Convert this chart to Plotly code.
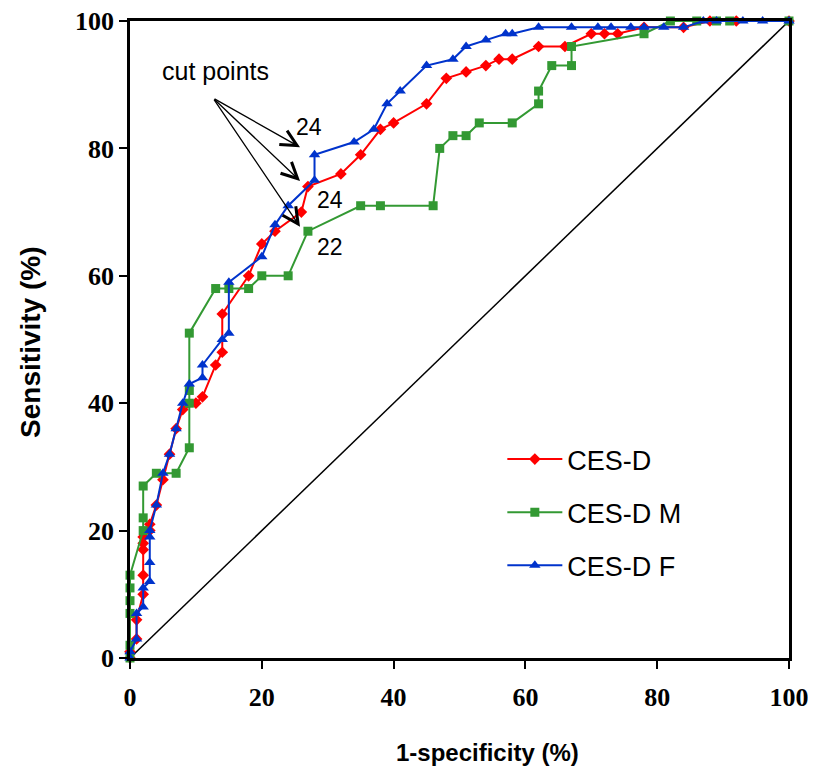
import plotly.graph_objects as go

# CES-D (all)
cesd_x = [0, 0, 1, 1, 2, 2, 2, 2, 2, 3, 3, 4, 5, 6, 7, 8, 10, 11, 13, 14, 14, 18, 20, 22, 26, 27,
          32, 35, 38, 40, 45, 48, 51, 54, 56, 58, 62, 66, 70, 72, 74, 78, 84, 88, 92, 100]
cesd_y = [0, 1, 3, 6, 10, 13, 17, 18, 19, 20, 21, 24, 28, 32, 36, 39, 40, 41, 46, 48, 54, 60, 65, 67, 70, 74,
          76, 79, 83, 84, 87, 91, 92, 93, 94, 94, 96, 96, 98, 98, 98, 99, 99, 100, 100, 100]

# CES-D M
cesdm_x = [0, 0, 0, 0, 0, 0, 2, 2, 2, 4, 7, 9, 9, 9, 9, 13, 15, 18, 20, 24, 27, 35, 38, 46, 47,
           49, 51, 53, 58, 62, 62, 64, 67, 67, 78, 82, 86, 89, 91, 100]
cesdm_y = [0, 2, 7, 9, 11, 13, 20, 22, 27, 29, 29, 33, 40, 42, 51, 58, 58, 58, 60, 60, 67, 71, 71, 71, 80,
           82, 82, 84, 84, 87, 89, 93, 93, 96, 98, 100, 100, 100, 100, 100]

# CES-D F
cesdf_x = [0, 0, 1, 1, 2, 2, 3, 3, 3, 3, 4, 5, 6, 7, 8, 9, 11, 11, 14, 15, 15, 20, 22, 24, 28, 28,
           34, 37, 39, 41, 45, 49, 51, 54, 57, 58, 62, 67, 71, 73, 76, 78, 81, 84, 87, 89, 93, 96, 100]
cesdf_y = [0, 1, 3, 7, 8, 11, 12, 15, 19, 20, 24, 29, 32, 36, 40, 43, 44, 46, 50, 51, 59, 63, 68, 71, 75, 79,
           81, 83, 87, 89, 93, 94, 96, 97, 98, 98, 99, 99, 99, 99, 99, 99, 99, 99, 100, 100, 100, 100, 100]

ref_line = [0, 100]

# cut point annotations
cut_head_x = [25.8, 25.8, 25.8]
cut_head_y = [80.2, 74.9, 67.7]
cut_label_x = [27.2, 30.3, 30.3]
cut_label_y = [83.4, 71.9, 64.5]
cut_labels = ["24", "24", "22"]
cut_tail = (12.6, 87.9)

fig = go.Figure()

fig.add_trace(go.Scatter(x=ref_line, y=ref_line, mode="lines",
                         line=dict(color="black", width=1.5), showlegend=False,
                         hoverinfo="skip", cliponaxis=False))

fig.add_trace(go.Scatter(x=cesd_x, y=cesd_y, mode="lines+markers", name="CES-D",
                         line=dict(color="#FF0000", width=2),
                         marker=dict(symbol="diamond", size=9, color="#FF0000"),
                         legendgroup="a", cliponaxis=False))
fig.add_trace(go.Scatter(x=cesdm_x, y=cesdm_y, mode="lines+markers", name="CES-D M",
                         line=dict(color="#339933", width=2),
                         marker=dict(symbol="square", size=9, color="#339933"),
                         legendgroup="b", cliponaxis=False))
fig.add_trace(go.Scatter(x=cesdf_x, y=cesdf_y, mode="lines+markers", name="CES-D F",
                         line=dict(color="#0033CC", width=2),
                         marker=dict(symbol="triangle-up", size=10, color="#0033CC"),
                         legendgroup="c", cliponaxis=False))

# arrows from "cut points"
for hx, hy in zip(cut_head_x, cut_head_y):
    fig.add_annotation(x=hx, y=hy, ax=cut_tail[0], ay=cut_tail[1],
                       xref="x", yref="y", axref="x", ayref="y",
                       text="", showarrow=True, arrowhead=5, arrowsize=2.4, arrowwidth=1.3,
                       arrowcolor="black")

for lx, ly, t in zip(cut_label_x, cut_label_y, cut_labels):
    fig.add_annotation(x=lx, y=ly, text=t, showarrow=False,
                       font=dict(family="Arial", size=23, color="black"))

fig.add_annotation(x=12.9, y=92.2, text="cut points", showarrow=False,
                   font=dict(family="Arial", size=25, color="black"))

# axis titles
fig.add_annotation(x=0.542, y=-0.148, xref="paper", yref="paper", text="<b>1-specificity (%)</b>",
                   xanchor="center", yanchor="middle",
                   showarrow=False, font=dict(family="Arial", size=24, color="black"))
fig.add_annotation(x=-0.152, y=0.496, xref="paper", yref="paper", text="<b>Sensitivity (%)</b>",
                   xanchor="center", yanchor="middle",
                   textangle=-90, showarrow=False, font=dict(family="Arial", size=28, color="black"))

tick_font = dict(family="Liberation Serif", size=26, color="black", weight="bold")

fig.update_xaxes(range=[0, 100], tickvals=[0, 20, 40, 60, 80, 100],
                 showgrid=False, zeroline=False, showline=True, linecolor="black", linewidth=2.5,
                 mirror=True, ticks="outside", ticklen=8, tickwidth=2, tickcolor="black",
                 tickfont=tick_font, ticklabelstandoff=6, automargin=False,
                 ticklabeloverflow="allow")
fig.update_yaxes(range=[0, 100], tickvals=[0, 20, 40, 60, 80, 100],
                 showgrid=False, zeroline=False, showline=True, linecolor="black", linewidth=2.5,
                 mirror=True, ticks="outside", ticklen=8, tickwidth=2, tickcolor="black",
                 tickfont=tick_font, automargin=False, ticklabeloverflow="allow")

fig.update_layout(
    width=800, height=764,
    margin=dict(l=122, r=19, t=13, b=114),
    plot_bgcolor="white", paper_bgcolor="white",
    legend=dict(x=0.565, y=0.35, xanchor="left", yanchor="top",
                font=dict(family="Arial", size=27, color="black"),
                itemwidth=55, tracegroupgap=15, bgcolor="rgba(0,0,0,0)"),
)

fig.write_html("out.html")
